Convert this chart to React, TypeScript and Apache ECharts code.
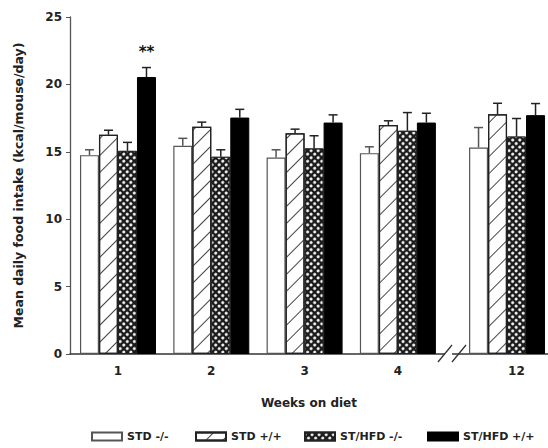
import React, { useEffect, useRef } from "react";
import * as echarts from "echarts";

const weekLabels = ["1", "2", "3", "4", "12"];
const barPositions = [1, 2, 3, 4, 5.17];
const labelPositions = [1, 2, 3, 4, 5.27];
const seriesNames = ["STD -/-", "STD +/+", "ST/HFD -/-", "ST/HFD +/+"];
const stdKO = [14.75, 15.44, 14.58, 14.9, 15.32];
const stdKOErr = [0.4, 0.56, 0.57, 0.47, 1.48];
const stdWT = [16.26, 16.85, 16.38, 16.98, 17.79];
const stdWTErr = [0.34, 0.35, 0.3, 0.32, 0.81];
const hfdKO = [15.07, 14.63, 15.25, 16.56, 16.13];
const hfdKOErr = [0.63, 0.52, 0.94, 1.35, 1.34];
const hfdWT = [20.55, 17.54, 17.17, 17.17, 17.72];
const hfdWTErr = [0.7, 0.61, 0.57, 0.69, 0.86];
const yTicks = [0, 5, 10, 15, 20, 25];

const FONT = "'DejaVu Sans', 'Liberation Sans', Arial, sans-serif";
const BAR_W = 19;
const legendLefts = [86, 190, 299, 422];

export default function App() {
  const ref = useRef<HTMLDivElement>(null);
  useEffect(() => {
    if (!ref.current) return;
    const chart = echarts.init(ref.current, null, { renderer: "svg" });
    const values = [stdKO, stdWT, hfdKO, hfdWT];
    const errs = [stdKOErr, stdWTErr, hfdKOErr, hfdWTErr];
    const styles: any[] = [
      { color: "#fff", borderColor: "#555", borderWidth: 1.2 },
      {
        color: "#fff",
        borderColor: "#222",
        borderWidth: 1.2,
        decal: {
          symbol: "rect",
          color: "#444",
          dashArrayX: [1, 0],
          dashArrayY: [1, 11],
          rotation: -Math.PI / 4,
          symbolSize: 1,
        },
      },
      {
        color: "#1a1a1a",
        borderColor: "#222",
        borderWidth: 1,
        decal: {
          symbol: "circle",
          color: "#fff",
          dashArrayX: [3, 1.3],
          dashArrayY: [3, 1.3],
          rotation: Math.PI / 4,
          symbolSize: 1,
        },
      },
      { color: "#000", borderColor: "#000", borderWidth: 1 },
    ];
    const barSeries = seriesNames.map((name, si) => ({
      name,
      type: "bar",
      barWidth: BAR_W,
      barGap: "0%",
      itemStyle: styles[si],
      z: 2,
      data: values[si].map((v, i) => {
        const d: any = { value: [barPositions[i], v] };
        if (si === 3 && i === 0) {
          d.label = {
            show: true,
            position: "top",
            distance: 17,
            formatter: "**",
            fontFamily: FONT,
            fontWeight: "bold",
            fontSize: 15,
            color: "#111",
          };
        }
        return d;
      }),
    }));
    const errData: any[] = [];
    values.forEach((vals, si) =>
      vals.forEach((v, i) => errData.push([barPositions[i], v, errs[si][i], si]))
    );
    const errSeries = {
      type: "custom",
      z: 3,
      silent: true,
      data: errData,
      encode: { x: 0, y: 1 },
      renderItem: (params: any, api: any) => {
        const x = api.value(0);
        const y = api.value(1);
        const e = api.value(2);
        const si = api.value(3);
        const p = api.coord([x, y]);
        const q = api.coord([x, y + e]);
        const cx = p[0] + (si - 1.5) * BAR_W;
        const stroke = si === 0 ? "#555" : "#222";
        return {
          type: "group",
          children: [
            { type: "line", shape: { x1: cx, y1: p[1], x2: cx, y2: q[1] }, style: { stroke, lineWidth: 1.5 } },
            { type: "line", shape: { x1: cx - 4.5, y1: q[1], x2: cx + 4.5, y2: q[1] }, style: { stroke, lineWidth: 1.5 } },
          ],
        };
      },
    };
    const legends = seriesNames.map((name, i) => ({
      data: [name],
      left: legendLefts[i],
      top: 426,
      itemWidth: 30,
      itemHeight: 8,
      icon: "rect",
      textStyle: { fontFamily: FONT, fontWeight: "bold", fontSize: 11, color: "#222" },
    }));
    chart.setOption({
      animation: false,
      backgroundColor: "#fff",
      grid: { left: 70, top: 17, right: 0, bottom: 94, containLabel: false },
      legend: legends,
      xAxis: {
        type: "value",
        min: 0.4857,
        max: 5.609,
        name: "Weeks on diet",
        nameLocation: "middle",
        nameGap: 43,
        nameTextStyle: { fontFamily: FONT, fontWeight: "bold", fontSize: 12, color: "#222" },
        axisLine: { show: true, onZero: false, lineStyle: { color: "#333", width: 1.5 } },
        axisTick: { show: false },
        splitLine: { show: false },
        axisLabel: {
          customValues: labelPositions,
          margin: 11,
          fontFamily: FONT,
          fontWeight: "bold",
          fontSize: 12,
          color: "#222",
          formatter: (v: number) => {
            const idx = labelPositions.findIndex((p) => Math.abs(p - v) < 1e-6);
            return idx >= 0 ? weekLabels[idx] : "";
          },
        },
      },
      yAxis: {
        type: "value",
        min: 0,
        max: 25,
        interval: 5,
        name: "Mean daily food intake (kcal/mouse/day)",
        nameLocation: "middle",
        nameGap: 45,
        nameTextStyle: { fontFamily: FONT, fontWeight: "bold", fontSize: 12.5, color: "#222" },
        axisLine: { show: true, lineStyle: { color: "#555", width: 1.3 } },
        axisTick: { show: true, length: 4, lineStyle: { color: "#555" } },
        splitLine: { show: false },
        axisLabel: {
          margin: 8,
          fontFamily: FONT,
          fontWeight: "bold",
          fontSize: 12,
          color: "#222",
          customValues: yTicks,
        },
      },
      graphic: [
        { type: "rect", shape: { x: 445, y: 351, width: 7, height: 6 }, style: { fill: "#fff" }, z: 100 },
        { type: "line", shape: { x1: 438, y1: 362, x2: 452, y2: 345 }, style: { stroke: "#333", lineWidth: 1.3 }, z: 101 },
        { type: "line", shape: { x1: 452, y1: 362, x2: 466, y2: 345 }, style: { stroke: "#333", lineWidth: 1.3 }, z: 101 },
      ],
      series: [...barSeries, errSeries],
    });
    return () => chart.dispose();
  }, []);
  return <div ref={ref} style={{ width: 548, height: 448, position: "absolute", left: 0, top: 0 }} />;
}
